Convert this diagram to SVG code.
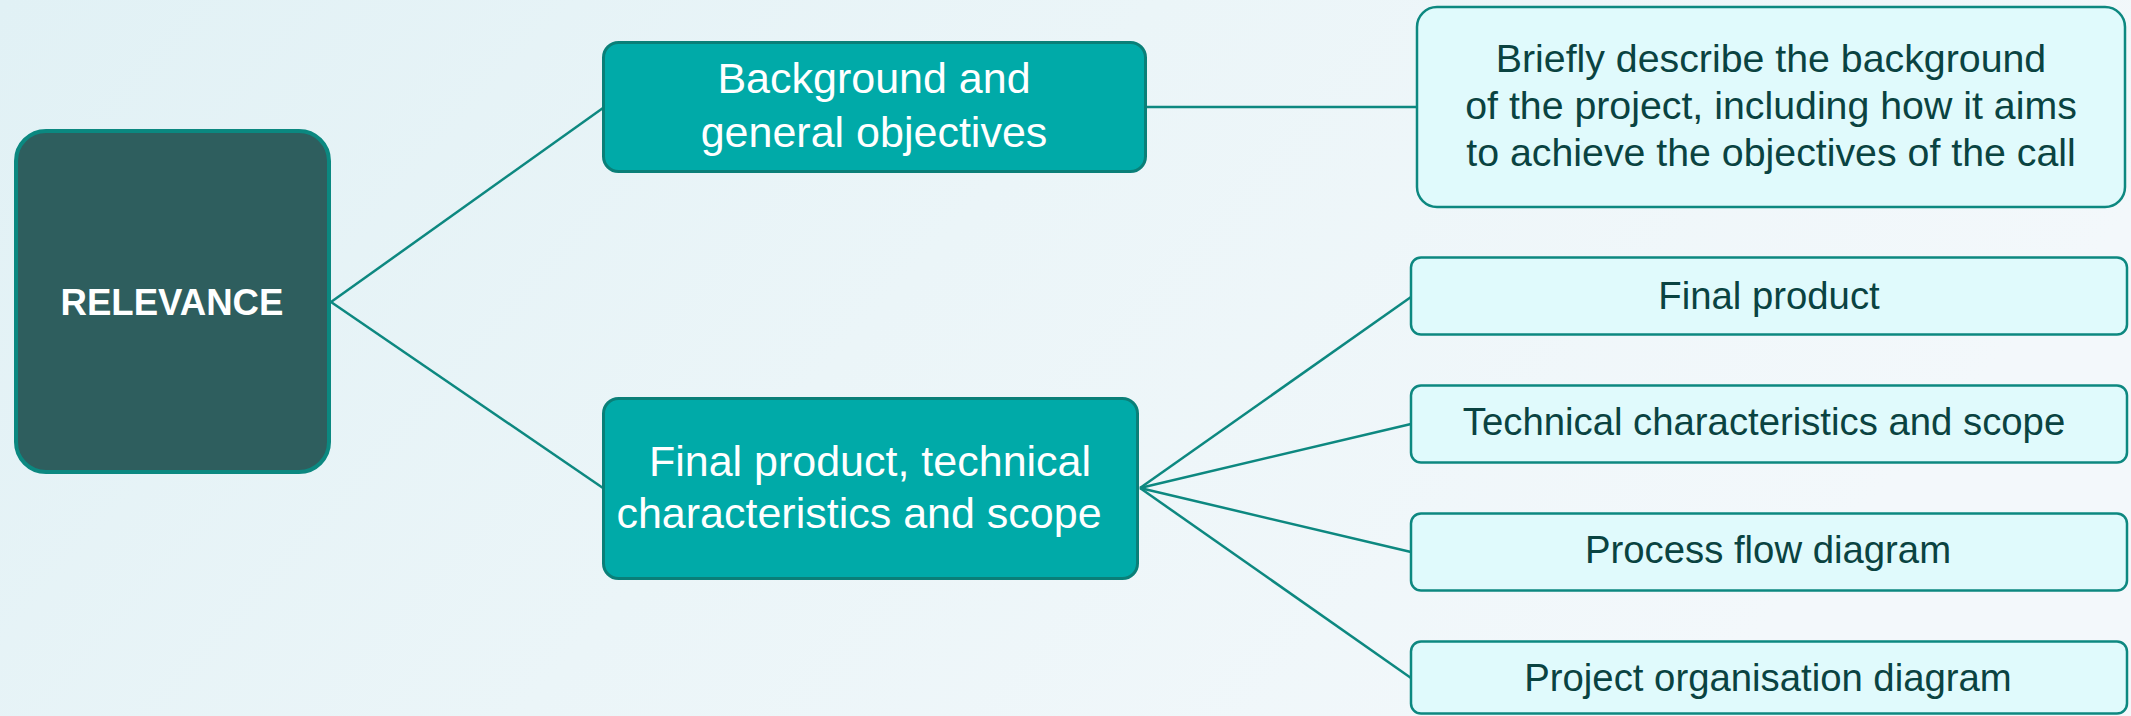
<svg xmlns="http://www.w3.org/2000/svg" width="2131" height="716" viewBox="0 0 2131 716">
  <defs>
    <linearGradient id="bg" x1="0" y1="0" x2="1" y2="0.3">
      <stop offset="0" stop-color="#e1f1f5"/>
      <stop offset="0.5" stop-color="#ebf5f8"/>
      <stop offset="1" stop-color="#f3f8fb"/>
    </linearGradient>
    <style>
      .root { fill: #2e5e5e; stroke: #0b8880; stroke-width: 4; }
      .mid { fill: #00aaa8; stroke: #0a7f78; stroke-width: 3; }
      .leaf { fill: #e0fafc; stroke: #0d8880; stroke-width: 2.5; }
      .conn { stroke: #0d8880; stroke-width: 2.5; fill: none; }
      .t { font-family: "Liberation Sans", Arial, sans-serif; text-anchor: middle; }
      .tw { fill: #ffffff; font-size: 43px; }
      .tl { fill: #0a4341; font-size: 38.3px; }
      .tr { fill: #0a4341; font-size: 39.3px; }
      .tb { fill: #ffffff; font-size: 36.6px; font-weight: bold; }
    </style>
  </defs>
  <rect x="0" y="0" width="2131" height="716" fill="url(#bg)"/>

  <g id="connectors">
    <line class="conn" x1="331" y1="302" x2="603" y2="108"/>
    <line class="conn" x1="331" y1="302" x2="603" y2="488"/>
    <line class="conn" x1="1146" y1="107" x2="1417" y2="107"/>
    <line class="conn" x1="1140" y1="488" x2="1411" y2="297"/>
    <line class="conn" x1="1140" y1="488" x2="1411" y2="424"/>
    <line class="conn" x1="1140" y1="488" x2="1411" y2="552"/>
    <line class="conn" x1="1140" y1="488" x2="1411" y2="678"/>
  </g>

  <g id="node-relevance">
    <rect class="root" x="16" y="131" width="313" height="341" rx="30" ry="30"/>
    <text class="t tb" x="172" y="315">RELEVANCE</text>
  </g>

  <g id="node-background">
    <rect class="mid" x="603.5" y="42.5" width="542" height="129" rx="15" ry="15"/>
    <text class="t tw" x="874" y="93">Background and</text>
    <text class="t tw" x="874" y="147">general objectives</text>
  </g>

  <g id="node-final">
    <rect class="mid" x="603.5" y="398.5" width="534" height="180" rx="15" ry="15"/>
    <text class="t tw" x="870" y="476">Final product, technical</text>
    <text class="t tw" x="859" y="528">characteristics and scope</text>
  </g>

  <g id="node-describe">
    <rect class="leaf" x="1417" y="7" width="708" height="200" rx="20" ry="20"/>
    <text class="t tr" x="1771" y="72">Briefly describe the background</text>
    <text class="t tr" x="1771" y="119">of the project, including how it aims</text>
    <text class="t tr" x="1771" y="166">to achieve the objectives of the call</text>
  </g>

  <g id="node-final-product">
    <rect class="leaf" x="1411" y="257.5" width="716" height="77" rx="10" ry="10"/>
    <text class="t tl" x="1769" y="309">Final product</text>
  </g>

  <g id="node-technical">
    <rect class="leaf" x="1411" y="385.5" width="716" height="77" rx="10" ry="10"/>
    <text class="t tl" x="1764" y="435">Technical characteristics and scope</text>
  </g>

  <g id="node-process">
    <rect class="leaf" x="1411" y="513.5" width="716" height="77" rx="10" ry="10"/>
    <text class="t tl" x="1768" y="563">Process flow diagram</text>
  </g>

  <g id="node-organisation">
    <rect class="leaf" x="1411" y="641.5" width="716" height="72" rx="10" ry="10"/>
    <text class="t tl" x="1768" y="691">Project organisation diagram</text>
  </g>
</svg>
